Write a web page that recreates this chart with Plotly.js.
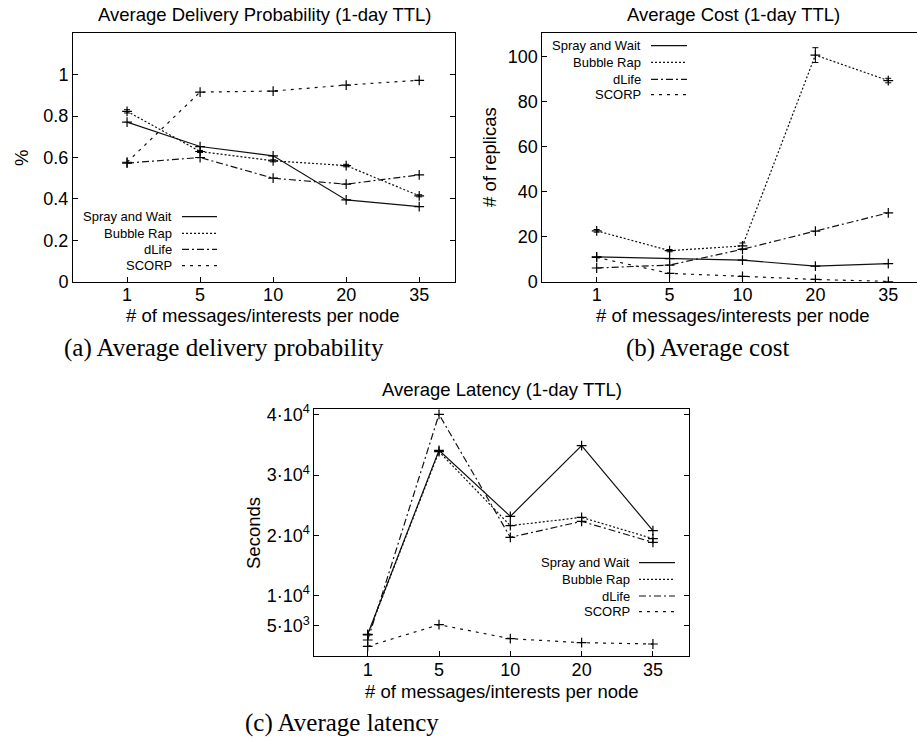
<!DOCTYPE html>
<html>
<head>
<meta charset="utf-8">
<script src="https://cdn.plot.ly/plotly-3.0.1.min.js"></script>
<style>html,body{margin:0;padding:0;background:#fff;}#chart{width:917px;height:740px;}</style>
</head>
<body>
<div id="chart"></div>
<script>
// ---------- data ----------
const categories = ['1', '5', '10', '20', '35'];
const seriesNames = ['Spray and Wait', 'Bubble Rap', 'dLife', 'SCORP'];

// (a) Average delivery probability
const deliverySprayWait = [0.771, 0.653, 0.608, 0.395, 0.363];
const deliveryBubbleRap = [0.823, 0.629, 0.584, 0.561, 0.415];
const deliveryBubbleRapErr = [0.008, 0.005, 0.005, 0.006, 0.005];
const deliveryDLife = [0.573, 0.600, 0.500, 0.471, 0.516];
const deliverySCORP = [0.577, 0.916, 0.921, 0.950, 0.973];

// (b) Average cost
const costSprayWait = [11.0, 10.2, 9.6, 6.9, 8.0];
const costBubbleRap = [22.6, 13.8, 15.9, 100.7, 89.4];
const costBubbleRapErr = [0.6, 0.5, 1.3, 3.3, 1.0];
const costDLife = [6.1, 7.4, 14.4, 22.5, 30.6];
const costSCORP = [10.8, 3.7, 2.4, 1.0, 0.1];

// (c) Average latency
const latencySprayWait = [3600, 34090, 23150, 34860, 20770];
const latencyBubbleRap = [3500, 33870, 21600, 22980, 19450];
const latencyDLife = [2650, 40050, 19670, 22320, 18840];
const latencySCORP = [1600, 5190, 2870, 2210, 1990];

const deliveryTicks = [0, 0.2, 0.4, 0.6, 0.8, 1];
const costTicks = [0, 20, 40, 60, 80, 100];
const latencyTickVals = [5000, 10000, 20000, 30000, 40000];
const latencyTickText = ['5·10<sup>3</sup>', '1·10<sup>4</sup>', '2·10<sup>4</sup>', '3·10<sup>4</sup>', '4·10<sup>4</sup>'];

// ---------- styling ----------
const W = 917, H = 740;
const SANS = 'Liberation Sans, Arial, sans-serif';
const SERIF = 'Liberation Serif, Times New Roman, serif';
const INK = '#000';
const dashes = ['solid', '2px,2px', '7px,3px,2px,3px', '3px,5px'];

function fx(p) { return p / W; }
function fy(p) { return 1 - p / H; }

function trace(y, k, xa, ya, err) {
  const t = {
    x: categories, y: y, type: 'scatter', mode: 'lines+markers',
    name: seriesNames[k], xaxis: xa, yaxis: ya, cliponaxis: true,
    line: {color: '#111', width: 1.2, dash: dashes[k]},
    marker: {symbol: 'cross-thin-open', size: 7, color: INK, line: {color: INK, width: 1.2}}
  };
  if (err) t.error_y = {type: 'data', array: err, visible: true, color: INK, thickness: 1, width: 3};
  return t;
}

const data = [
  trace(deliverySprayWait, 0, 'x', 'y'),
  trace(deliveryBubbleRap, 1, 'x', 'y', deliveryBubbleRapErr),
  trace(deliveryDLife, 2, 'x', 'y'),
  trace(deliverySCORP, 3, 'x', 'y'),
  trace(costSprayWait, 0, 'x2', 'y2'),
  trace(costBubbleRap, 1, 'x2', 'y2', costBubbleRapErr),
  trace(costDLife, 2, 'x2', 'y2'),
  trace(costSCORP, 3, 'x2', 'y2'),
  trace(latencySprayWait, 0, 'x3', 'y3'),
  trace(latencyBubbleRap, 1, 'x3', 'y3'),
  trace(latencyDLife, 2, 'x3', 'y3'),
  trace(latencySCORP, 3, 'x3', 'y3')
];

function xAxis(x0, x1, range, anchor, mirror) {
  return {
    domain: [fx(x0), Math.min(1, fx(x1))], anchor: anchor, type: 'category', range: range,
    showline: true, linecolor: INK, linewidth: 1, mirror: mirror,
    ticks: 'inside', ticklen: 5, tickcolor: INK, tickwidth: 1,
    ticklabelstandoff: -3,
    showgrid: false, zeroline: false, fixedrange: true,
    tickfont: {family: SANS, size: 18, color: INK}
  };
}
function yAxis(y0, y1, range, anchor, mirror, tickvals, ticktext) {
  const a = {
    domain: [fy(y1), fy(y0)], anchor: anchor, range: range,
    showline: true, linecolor: INK, linewidth: 1, mirror: mirror,
    ticks: 'inside', ticklen: 5, tickcolor: INK, tickwidth: 1,
    showgrid: false, zeroline: false, fixedrange: true,
    tickmode: 'array', tickvals: tickvals,
    tickfont: {family: SANS, size: 18, color: INK}
  };
  if (ticktext) a.ticktext = ticktext;
  return a;
}

function ann(text, x, y, xanchor, size, family, angle) {
  return {
    text: text, x: fx(x), y: fy(y), xref: 'paper', yref: 'paper',
    xanchor: xanchor, yanchor: 'middle', showarrow: false,
    textangle: angle || 0,
    font: {family: family || SANS, size: size, color: INK}
  };
}

const annotations = [
  ann('Average Delivery Probability (1-day TTL)', 264, 14, 'center', 18.5),
  ann('Average Cost (1-day TTL)', 733, 14, 'center', 18.5),
  ann('Average Latency (1-day TTL)', 502, 390, 'center', 18.5),
  ann('# of messages/interests per node', 263, 315, 'center', 18.5),
  ann('# of messages/interests per node', 733, 315, 'center', 18.5),
  ann('# of messages/interests per node', 502, 691, 'center', 18.5),
  ann('%', 21, 158, 'center', 18.5, SANS, -90),
  ann('# of replicas', 490, 157, 'center', 18.5, SANS, -90),
  ann('Seconds', 253, 533, 'center', 18.5, SANS, -90),
  ann('(a) Average delivery probability', 62, 348, 'left', 25, SERIF),
  ann('(b) Average cost', 624, 348, 'left', 25, SERIF),
  ann('(c) Average latency', 243, 723, 'left', 25, SERIF)
];

const shapes = [];
function legend(textRight, lx0, lx1, rows) {
  seriesNames.forEach(function (name, k) {
    annotations.push(ann(name, textRight, rows[k], 'right', 13));
    shapes.push({
      type: 'line', xref: 'paper', yref: 'paper',
      x0: fx(lx0), x1: fx(lx1), y0: fy(rows[k]), y1: fy(rows[k]),
      line: {color: '#111', width: 1.2, dash: dashes[k]}
    });
  });
}
legend(174, 182, 217, [216.7, 233.3, 249.3, 265.7]);
legend(643, 651, 687, [45.7, 62.3, 79.3, 94.7]);
legend(632, 639, 675, [562.7, 579.3, 596, 611.7]);

const layout = {
  width: W, height: H,
  margin: {l: 0, r: 0, t: 0, b: 0},
  paper_bgcolor: '#fff', plot_bgcolor: '#fff',
  showlegend: false,
  xaxis: xAxis(73, 455, [-0.74, 4.49], 'y', true),
  yaxis: yAxis(33.3, 281.7, [0, 1.2], 'x', 'ticks', deliveryTicks),
  xaxis2: xAxis(542.3, 917, [-0.746, 4.394], 'y2', true),
  yaxis2: yAxis(33.3, 281.7, [0, 110.4], 'x2', false, costTicks),
  xaxis3: xAxis(314.3, 689.3, [-0.749, 4.51], 'y3', true),
  yaxis3: yAxis(409, 656, [0, 40940], 'x3', 'ticks', latencyTickVals, latencyTickText),
  annotations: annotations,
  shapes: shapes
};

Plotly.newPlot('chart', data, layout, {staticPlot: true, displayModeBar: false});
</script>
</body>
</html>
